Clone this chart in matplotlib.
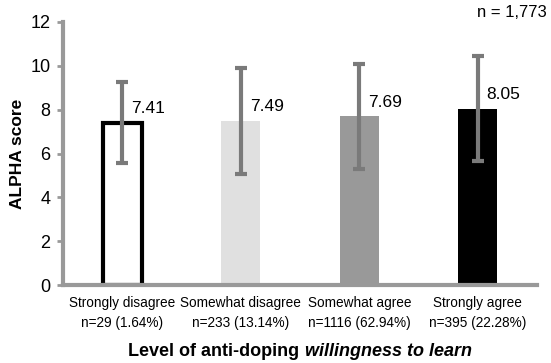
import numpy as np
import matplotlib.pyplot as plt

plt.rcParams['font.family'] = ['Liberation Sans', 'DejaVu Sans']

categories = ["Strongly disagree", "Somewhat disagree", "Somewhat agree", "Strongly agree"]
counts = ["n=29 (1.64%)", "n=233 (13.14%)", "n=1116 (62.94%)", "n=395 (22.28%)"]
means = [7.41, 7.49, 7.69, 8.05]
sds = [1.84, 2.42, 2.40, 2.40]
value_labels = ["7.41", "7.49", "7.69", "8.05"]

face = ["white", "#e0e0e0", "#999999", "black"]
edge = ["black", "#e0e0e0", "#999999", "black"]
lws = [3, 0, 0, 0]

fig = plt.figure(figsize=(5.51, 3.63), dpi=100)
ax = fig.add_axes([63/551, 78/363, 474/551, 263/363])

x = np.arange(len(means))
ax.bar(x, means, width=0.33, color=face, edgecolor=edge, linewidth=lws, zorder=2)
ax.errorbar(x, means, yerr=sds, fmt='none', ecolor='#7a7a7a', elinewidth=3,
            capsize=4.5, capthick=3, zorder=3)

for i in range(len(means)):
    ax.text(x[i] + 0.075, means[i] + 0.65, value_labels[i], fontsize=12.5,
            ha='left', va='center')

ax.set_xlim(-0.5, 3.5)
ax.set_ylim(0, 12)
ax.set_yticks(range(0, 13, 2))
ax.set_xticks(x)
ax.set_xticklabels([c + "\n" + n for c, n in zip(categories, counts)], fontsize=9.8,
                   linespacing=1.5)
ax.tick_params(axis='x', length=0, pad=8)
ax.tick_params(axis='y', labelsize=13, color='#999999', width=2, length=4, pad=5)

for s in ['top', 'right']:
    ax.spines[s].set_visible(False)
for s in ['left', 'bottom']:
    ax.spines[s].set_color('#999999')
    ax.spines[s].set_linewidth(3)

ax.set_ylabel("ALPHA score", fontsize=12.5, fontweight='bold', labelpad=4)

fig.text(0.993, 0.985, "n = 1,773", fontsize=12, ha='right', va='top')

# x-axis title with italic part
t1 = fig.text(0, 0.02, "Level of anti-doping ", fontsize=13, fontweight='bold', va='baseline')
t2 = fig.text(0, 0.02, "willingness to learn", fontsize=13, fontweight='bold',
              style='italic', va='baseline')
fig.canvas.draw()
r = fig.canvas.get_renderer()
w1 = t1.get_window_extent(r).width
w2 = t2.get_window_extent(r).width
W = fig.get_figwidth() * fig.dpi
cx = (63 + 537) / 2
start = cx - (w1 + w2) / 2
t1.set_x(start / W)
t2.set_x((start + w1) / W)

fig.savefig("out.png", dpi=100)
